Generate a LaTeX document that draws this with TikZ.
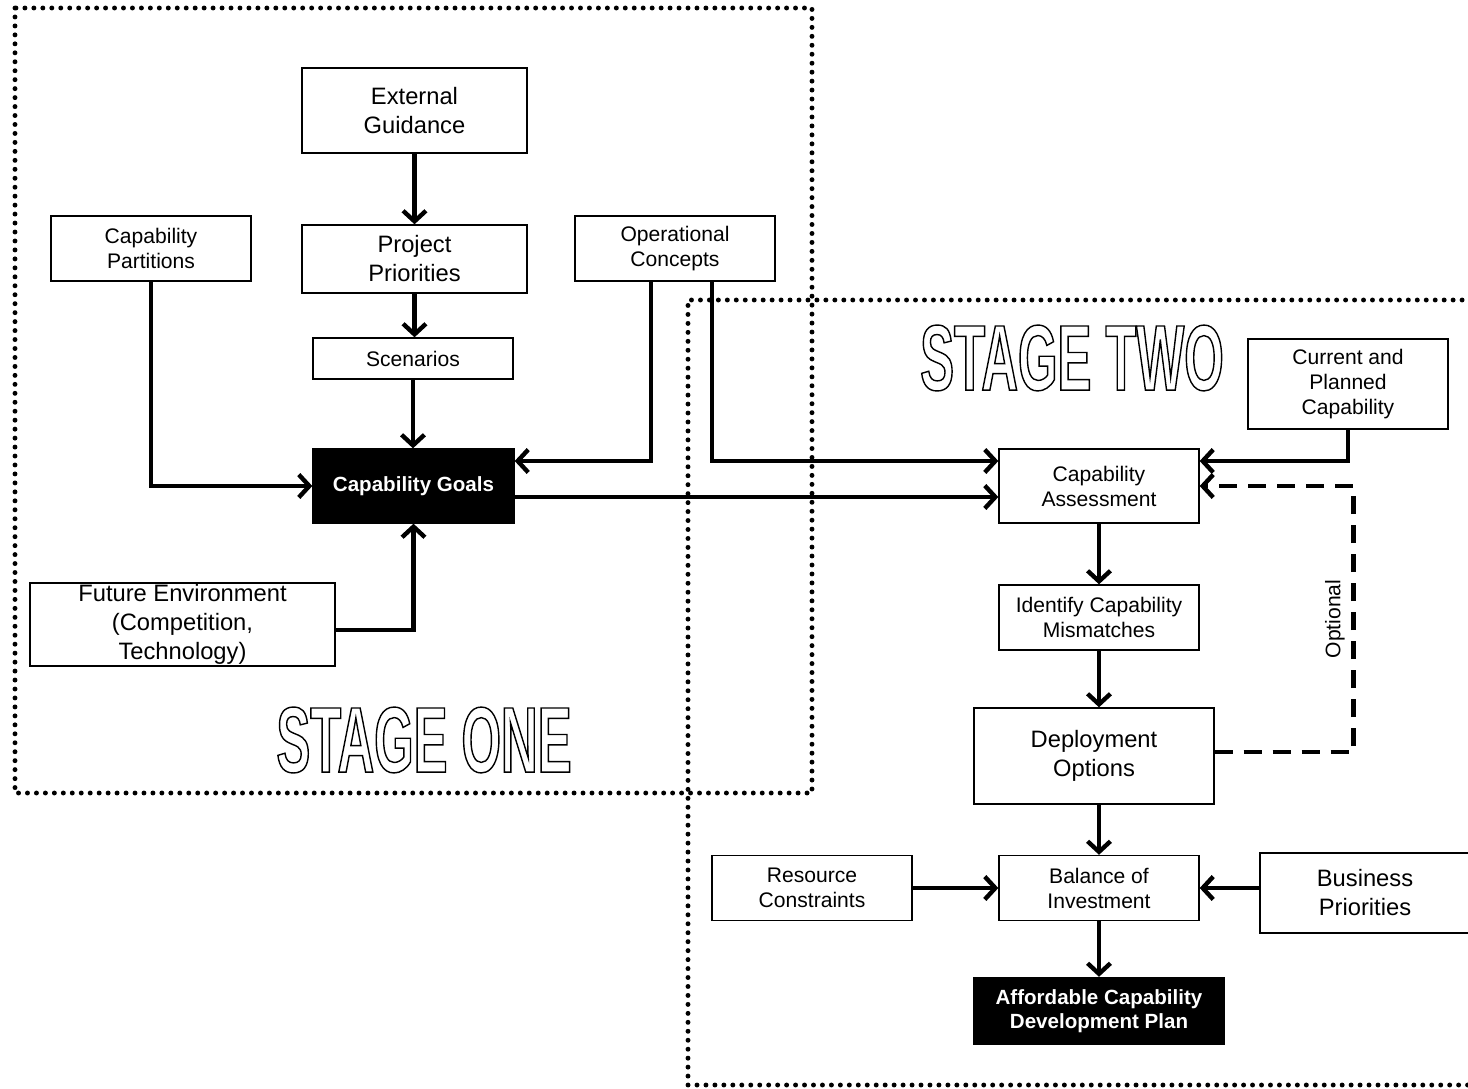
\documentclass[tikz,border=0pt]{standalone}
\usepackage{fontspec}
\setmainfont{Liberation Sans}
\newfontfamily\stagefont[FakeStretch=0.545]{Liberation Sans Bold}
\usetikzlibrary{arrows.meta,calc}
% outlined lettering for the stage titles
\newcommand{\outlinetext}[1]{\special{pdf:code 1 Tr 0.8 w}#1\special{pdf:code 0 Tr}}
\begin{document}
\begin{tikzpicture}[x=0.02cm,y=-0.02cm,
  box/.style={draw, line width=0.8pt, fill=white, align=center, inner sep=0pt},
  sbox/.style={box, font=\fontsize{12}{14.2}\selectfont},
  lbox/.style={box, font=\fontsize{13.5}{16.5}\selectfont},
  darkbox/.style={box, fill=black, text=white, font=\bfseries\fontsize{11.7}{14}\selectfont},
  conn/.style={line width=2.5pt, -{Straight Barb[length=6pt,width=13pt]}},
  dashconn/.style={conn, dash pattern=on 0.36cm off 0.22cm},
  stagebox/.style={line width=2.8pt, line cap=round, dash pattern=on 0pt off 5.1pt},
  stagetitle/.style={font=\stagefont\fontsize{53}{60}\selectfont, inner sep=0pt}
]
\useasboundingbox (0,0) rectangle (1468,1089);
\clip (0,0) rectangle (1468,1089);

% stage areas
\draw[stagebox] (15,8) rectangle (812,793);
\draw[stagebox] (1480,300) -- (688,300) -- (688,1085) -- (1480,1085);

% stage one
\node[lbox, minimum width=4.5cm, minimum height=1.7cm] (eg) at (414.5,110.5) {External\\Guidance};
\node[lbox, minimum width=4.5cm, minimum height=1.36cm] (pp) at (414.5,259) {Project\\Priorities};
\node[sbox, minimum width=4cm, minimum height=0.82cm] (sc) at (413,358.5) {Scenarios};
\node[darkbox, minimum width=4.02cm, minimum height=1.48cm] (goals) at (413.5,486) {Capability Goals};
\node[sbox, minimum width=4cm, minimum height=1.3cm] (cp) at (151,248.5) {Capability\\Partitions};
\node[sbox, minimum width=4cm, minimum height=1.3cm] (oc) at (675,248.5) {Operational\\Concepts};
\node[lbox, minimum width=6.1cm, minimum height=1.66cm] (fe) at (182.5,624.5) {Future Environment\\(Competition,\\Technology)};

% stage two
\node[sbox, minimum width=4cm, minimum height=1.8cm] (cpc) at (1348,384) {Current and\\Planned\\Capability};
\node[sbox, minimum width=4cm, minimum height=1.48cm] (assess) at (1099,486) {Capability\\Assessment};
\node[sbox, minimum width=4cm, minimum height=1.3cm] (icm) at (1099,617.5) {Identify Capability\\Mismatches};
\node[lbox, minimum width=4.8cm, minimum height=1.92cm] (dep) at (1094,756) {Deployment\\Options};
\node[sbox, minimum width=4cm, minimum height=1.3cm] (rc) at (812,888) {Resource\\Constraints};
\node[sbox, minimum width=4cm, minimum height=1.3cm] (boi) at (1099,888) {Balance of\\Investment};
\node[lbox, minimum width=4.2cm, minimum height=1.6cm] (bp) at (1365,893) {Business\\Priorities};
\node[darkbox, minimum width=5cm, minimum height=1.34cm] (acdp) at (1099,1011) {Affordable Capability\\Development Plan};

% titles
\node[stagetitle] (t1) at (424,740) {\outlinetext{STAGE ONE}};
\node[stagetitle] (t2) at (1072,358) {\outlinetext{STAGE TWO}};

% connectors, stage one
\draw[conn] (eg) -- (pp);
\draw[conn] (pp.south) -- (pp.south |- sc.north);
\draw[conn] (sc.south) -- (sc.south |- goals.north);
\draw[conn] (cp.south) |- (goals.west);
\draw[conn] ([xshift=-0.48cm]oc.south) |- ([yshift=0.5cm]goals.east);
\draw[conn] ([yshift=-0.11cm]fe.east) -| (goals.south);

% connectors into stage two
\draw[conn] ([xshift=0.74cm]oc.south) |- ([yshift=0.5cm]assess.west);
\draw[conn] ([yshift=-0.22cm]goals.east) -- ([yshift=-0.22cm]assess.west);
\draw[conn] (cpc.south) |- ([yshift=0.5cm]assess.east);
\draw[dashconn] ([yshift=0.08cm]dep.east) -- ++(139,0) |- (assess.east)
  node[pos=0.25, left=0.5pt, rotate=90, anchor=south, font=\fontsize{12}{14}\selectfont] (opt) {Optional};
\draw[conn] (assess) -- (icm);
\draw[conn] (icm.south) -- (icm.south |- dep.north);
\draw[conn] (dep.south -| boi) -- (boi.north);
\draw[conn] (rc) -- (boi);
\draw[conn] (bp.west |- boi.east) -- (boi.east);
\draw[conn] (boi) -- (acdp);
\end{tikzpicture}
\end{document}
